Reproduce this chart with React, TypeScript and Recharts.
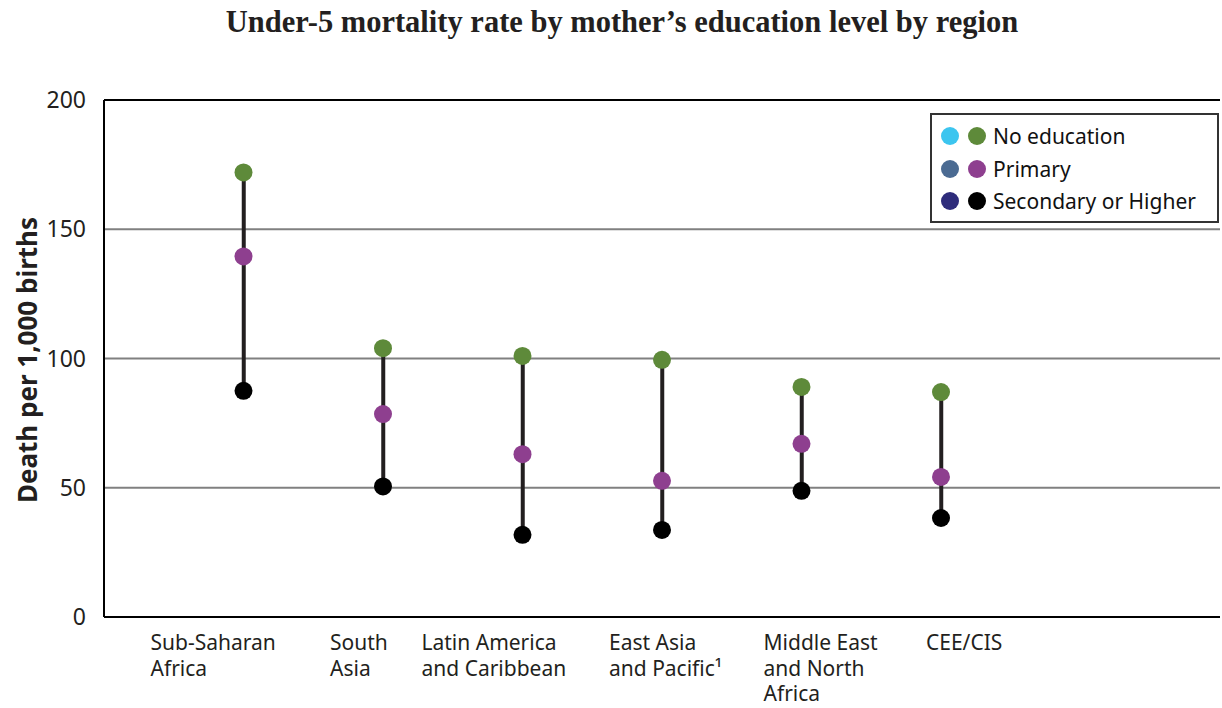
import React from "react"
import {
  ComposedChart,
  Bar,
  Scatter,
  XAxis,
  YAxis,
  CartesianGrid,
  ReferenceLine,
} from "recharts"

const regions = [
  "Sub-Saharan\nAfrica",
  "South\nAsia",
  "Latin America\nand Caribbean",
  "East Asia\nand Pacific¹",
  "Middle East\nand North\nAfrica",
  "CEE/CIS",
]
const noEducation = [172, 104, 101, 99.5, 89, 87]
const primary = [139.5, 78.5, 63, 52.7, 67, 54.2]
const secondary = [87.5, 50.5, 31.8, 33.7, 48.8, 38.3]
const yTicks = [0, 50, 100, 150, 200]

const seriesNames = ["No education", "Primary", "Secondary or Higher"]
const seriesColors = ["#5e8a3a", "#8e3f8f", "#000000"]
const altColors = ["#3cc5ef", "#4b6b92", "#2e2c7b"]

// left edge of each region label, relative to its stem
const labelShift = [-93, -53, -101, -53, -38, -15]

const rows = regions.map((name, i) => ({
  name,
  pos: i + 1,
  none: noEducation[i],
  primary: primary[i],
  secondary: secondary[i],
}))

const FONT = "'Noto Sans', sans-serif"

function RegionTick(props: any) {
  const { x, y, payload } = props
  const idx = Math.round(payload.value) - 1
  const lines = (regions[idx] || "").split("\n")
  const lx = x + (labelShift[idx] || 0)
  return (
    <text x={lx} y={y} fontFamily={FONT} fontSize={21} fill="#231f20" textAnchor="start">
      {lines.map((l, k) => (
        <tspan key={k} x={lx} dy={k === 0 ? 25 : 25.5}>
          {l}
        </tspan>
      ))}
    </text>
  )
}

const dot = (color: string) => (p: any) => <circle cx={p.cx} cy={p.cy} r={9} fill={color} />

function LegendBox() {
  return (
    <div
      style={{
        position: "absolute",
        left: 930,
        top: 113,
        width: 276,
        height: 101,
        border: "2.5px solid #333",
        background: "#fff",
        padding: "5px 0 0 9px",
        fontFamily: FONT,
        fontSize: 21,
        color: "#111",
      }}
    >
      {seriesNames.map((n, i) => (
        <div key={n} style={{ display: "flex", alignItems: "center", height: 32.5 }}>
          <span style={{ width: 18, height: 18, borderRadius: 9, background: altColors[i], marginRight: 9 }} />
          <span style={{ width: 18, height: 18, borderRadius: 9, background: seriesColors[i], marginRight: 7 }} />
          <span>{n}</span>
        </div>
      ))}
    </div>
  )
}

export default function App() {
  return (
    <div style={{ position: "absolute", left: 0, top: 0, width: 1222, height: 708, background: "#fff" }}>
      <ComposedChart
        width={1222}
        height={708}
        data={rows}
        margin={{ top: 100, right: 2, left: 44, bottom: 0 }}
        style={{ position: "absolute", left: 0, top: 0 }}
      >
        <CartesianGrid horizontal vertical={false} stroke="#808080" strokeWidth={2} />
        <XAxis
          type="number"
          dataKey="pos"
          domain={[0, 8]}
          ticks={[1, 2, 3, 4, 5, 6]}
          height={91}
          tickSize={0}
          tickMargin={8}
          tick={<RegionTick />}
          axisLine={{ stroke: "#000", strokeWidth: 2 }}
          tickLine={false}
        />
        <YAxis
          type="number"
          domain={[0, 200]}
          ticks={yTicks}
          width={60}
          tickSize={0}
          tickMargin={18}
          tick={{ fill: "#231f20", fontSize: 23, fontFamily: FONT }}
          axisLine={{ stroke: "#000", strokeWidth: 2 }}
          tickLine={false}
        />
        <ReferenceLine y={200} stroke="#000" strokeWidth={2} />
        <Bar
          dataKey={(d: any) => [d.secondary, d.none]}
          barSize={4}
          fill="#231f20"
          isAnimationActive={false}
          legendType="none"
        />
        <Scatter dataKey="none" name={seriesNames[0]} shape={dot(seriesColors[0])} isAnimationActive={false} />
        <Scatter dataKey="primary" name={seriesNames[1]} shape={dot(seriesColors[1])} isAnimationActive={false} />
        <Scatter dataKey="secondary" name={seriesNames[2]} shape={dot(seriesColors[2])} isAnimationActive={false} />
      </ComposedChart>
      <div
        style={{
          position: "absolute",
          top: 5,
          left: 0,
          width: 1244,
          textAlign: "center",
          fontFamily: "'Liberation Serif', serif",
          fontWeight: "bold",
          fontSize: 30.5,
          color: "#231f20",
        }}
      >
        Under-5 mortality rate by mother’s education level by region
      </div>
      <div
        style={{
          position: "absolute",
          left: 27,
          top: 360,
          transform: "translate(-50%, -50%) rotate(-90deg)",
          fontFamily: FONT,
          fontWeight: "bold",
          fontSize: 26,
          whiteSpace: "nowrap",
          color: "#231f20",
        }}
      >
        Death per 1,000 births
      </div>
      <LegendBox />
    </div>
  )
}
